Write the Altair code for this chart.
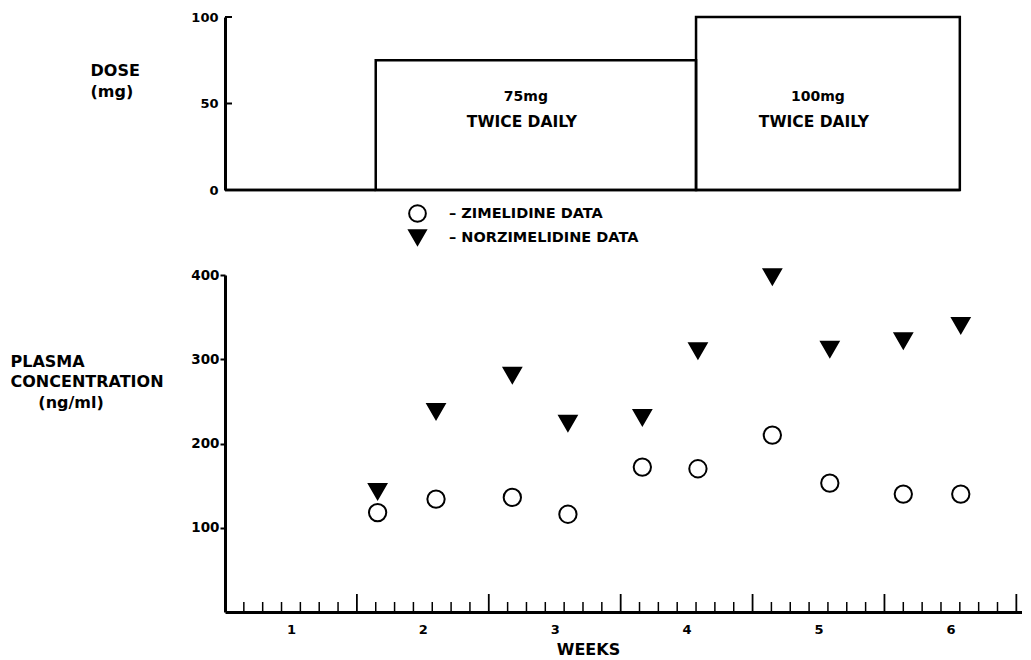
import altair as alt
import pandas as pd

# ---------------- data ----------------
days = [8.1, 11.2, 15.25, 18.2, 22.15, 25.1, 29.05, 32.1, 36.0, 39.05]
zimelidine = [118, 134, 136, 116, 172, 170, 210, 153, 140, 140]
norzimelidine = [143, 238, 281, 224, 231, 310, 398, 312, 322, 340]
series_names = ["ZIMELIDINE DATA", "NORZIMELIDINE DATA"]

dose_start = [0, 8, 25]
dose_end = [8, 25, 39]
dose_mg = [0, 75, 100]
dose_label = ["", "75mg", "100mg"]
dose_freq = ["", "TWICE DAILY", "TWICE DAILY"]

week_labels = [1, 2, 3, 4, 5, 6]
major_days = [7, 14, 21, 28, 35, 42]
minor_days = [d for d in range(1, 43) if d % 7 != 0]
dose_tick_values = [0, 50, 100]
dose_inner_ticks = [50, 100]
conc_tick_values = [100, 200, 300, 400]

# ---------------- layout / style ----------------
FONT = "DejaVu Sans"
W = 797
H_TOP = 173
H_BOT = 337
xs = alt.Scale(domain=[0, 42.3], nice=False, zero=False)
ys_top = alt.Scale(domain=[0, 100], nice=False)
ys_bot = alt.Scale(domain=[0, 400], nice=False)

dose_df = pd.DataFrame({"start": dose_start, "end": dose_end, "dose": dose_mg,
                        "label": dose_label, "freq": dose_freq})
dose_df["mid"] = (dose_df["start"] + dose_df["end"]) / 2
dose_on = dose_df[dose_df["dose"] > 0]

top_axis = alt.Axis(values=dose_tick_values, ticks=False, domainWidth=3, domainColor="black",
                    labelFont=FONT, labelFontWeight="bold", labelFontSize=13, labelColor="black",
                    labelPadding=7, grid=False,
                    title=["DOSE", "(mg)"], titleAngle=0, titleAlign="left", titleBaseline="alphabetic",
                    titleX=-135, titleY=58, titleLineHeight=21, titleFont=FONT, titleFontWeight="bold",
                    titleFontSize=16, titleColor="black")

boxes = alt.Chart(dose_df).mark_rect(stroke="black", strokeWidth=2.5, fillOpacity=0).encode(
    x=alt.X("start:Q", scale=xs, axis=None),
    x2="end:Q",
    y=alt.Y("dose:Q", scale=ys_top, axis=top_axis),
    y2=alt.datum(0),
)
baseline = alt.Chart(dose_df).mark_rule(stroke="black", strokeWidth=2.5).encode(
    x=alt.X("start:Q", scale=xs, axis=None),
    x2="end:Q",
    y=alt.datum(0),
)
inner_ticks = alt.Chart(pd.DataFrame({"dose": dose_inner_ticks})).mark_rule(stroke="black", strokeWidth=2).encode(
    y=alt.Y("dose:Q", scale=ys_top),
    x=alt.value(0), x2=alt.value(7),
)
amount_text = alt.Chart(dose_on).mark_text(font=FONT, fontWeight="bold", fontSize=14, dx=-10, color="black").encode(
    x=alt.X("mid:Q", scale=xs, axis=None), y=alt.value(80), text="label:N")
freq_text = alt.Chart(dose_on).mark_text(font=FONT, fontWeight="bold", fontSize=15.5, dx=-14, color="black").encode(
    x=alt.X("mid:Q", scale=xs, axis=None), y=alt.value(105), text="freq:N")

top = alt.layer(boxes, baseline, inner_ticks, amount_text, freq_text).properties(width=W, height=H_TOP)

# bottom panel
pts_df = pd.DataFrame({
    "day": days + days,
    "conc": zimelidine + norzimelidine,
    "series": [series_names[0]] * len(days) + [series_names[1]] * len(days),
})

leg = alt.Legend(orient="none", legendX=183, legendY=187, title=None, padding=0,
                 labelFont=FONT, labelFontWeight="bold", labelFontSize=14.5, labelColor="black",
                 labelExpr="'\u2013 ' + datum.label", labelOffset=22, labelLimit=400,
                 symbolSize=280, symbolStrokeWidth=2, symbolStrokeColor="black", rowPadding=0)

x_axis = alt.Axis(values=[(w - 0.5) * 7 for w in week_labels], labelExpr="round((datum.value + 3.5) / 7)",
                  ticks=False, domainWidth=3, domainColor="black", grid=False,
                  labelFont=FONT, labelFontWeight="bold", labelFontSize=13, labelColor="black",
                  labelPadding=11,
                  title="WEEKS", titleFont=FONT, titleFontWeight="bold", titleFontSize=16,
                  titleColor="black", titleX=363, titleAlign="center", titlePadding=5)
y_axis = alt.Axis(values=conc_tick_values, tickSize=5, tickWidth=2, tickColor="black",
                  domainWidth=3, domainColor="black", grid=False,
                  labelFont=FONT, labelFontWeight="bold", labelFontSize=13.5, labelColor="black",
                  labelPadding=1,
                  title=["PLASMA", "CONCENTRATION", "\u200b\u00a0\u00a0\u00a0\u00a0\u00a0(ng/ml)"],
                  titleAngle=0, titleAlign="left", titleBaseline="alphabetic",
                  titleX=-215, titleY=91, titleLineHeight=20.5, titleFont=FONT,
                  titleFontWeight="bold", titleFontSize=16, titleColor="black")

sc_shape = alt.Scale(domain=series_names, range=["circle", "triangle-down"])
points = alt.Chart(pts_df).mark_point(filled=True, size=300, strokeWidth=2, opacity=1).encode(
    x=alt.X("day:Q", scale=xs, axis=x_axis),
    y=alt.Y("conc:Q", scale=ys_bot, axis=y_axis),
    shape=alt.Shape("series:N", scale=sc_shape, legend=leg),
    fill=alt.Fill("series:N", scale=alt.Scale(domain=series_names, range=["white", "black"]), legend=leg),
    stroke=alt.Stroke("series:N", scale=alt.Scale(domain=series_names, range=["black", "black"]), legend=leg),
)
minor = alt.Chart(pd.DataFrame({"day": minor_days})).mark_rule(stroke="black", strokeWidth=1.5).encode(
    x=alt.X("day:Q", scale=xs), y=alt.value(H_BOT), y2=alt.value(H_BOT - 10))
major = alt.Chart(pd.DataFrame({"day": major_days})).mark_rule(stroke="black", strokeWidth=1.8).encode(
    x=alt.X("day:Q", scale=xs), y=alt.value(H_BOT), y2=alt.value(H_BOT - 18))

bottom = alt.layer(points, minor, major).properties(width=W, height=H_BOT)

chart = alt.vconcat(top, bottom, spacing=85, bounds="flush").properties(
    padding={"left": 2, "top": 3, "right": 0, "bottom": 0}
).configure_view(stroke=None)

chart.save("out.html", embed_options={"renderer": "svg", "actions": False})
